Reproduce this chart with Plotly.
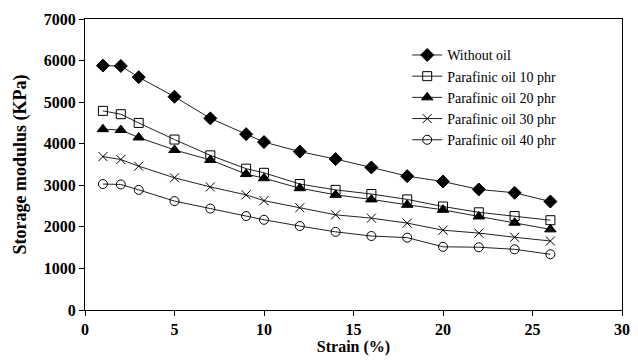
import plotly.graph_objects as go

strain = [1, 2, 3, 5, 7, 9, 10, 12, 14, 16, 18, 20, 22, 24, 26]
without_oil = [5880, 5870, 5600, 5130, 4610, 4230, 4040, 3810, 3630, 3430, 3220, 3090, 2900, 2820, 2610]
oil_10 = [4790, 4710, 4500, 4100, 3720, 3400, 3300, 3030, 2890, 2790, 2660, 2490, 2350, 2260, 2160]
oil_20 = [4350, 4330, 4150, 3850, 3610, 3270, 3170, 2930, 2770, 2660, 2530, 2410, 2250, 2100, 1940]
oil_30 = [3690, 3620, 3460, 3180, 2960, 2770, 2630, 2460, 2290, 2210, 2090, 1920, 1850, 1750, 1660]
oil_40 = [3030, 3020, 2890, 2620, 2440, 2260, 2170, 2020, 1880, 1780, 1740, 1520, 1510, 1460, 1340]

names = ["Without oil", "Parafinic oil 10 phr", "Parafinic oil 20 phr",
         "Parafinic oil 30 phr", "Parafinic oil 40 phr"]
series = [without_oil, oil_10, oil_20, oil_30, oil_40]
symbols = ["diamond", "square-open", "triangle-up", "x-thin-open", "circle-open"]
sizes = [10, 9, 10, 9, 9]

fig = go.Figure()
for name, vals, sym, sz in zip(names, series, symbols, sizes):
    fig.add_trace(go.Scatter(
        x=strain, y=vals, mode="lines+markers", name=name,
        line=dict(color="#222222", width=1),
        marker=dict(symbol=sym, size=sz, color="black",
                    line=dict(color="black", width=1)),
    ))

font_fam = "Liberation Serif"
fig.update_layout(
    width=638, height=362,
    margin=dict(l=85, r=8, t=19, b=52),
    paper_bgcolor="white", plot_bgcolor="white",
    font=dict(family=font_fam, color="black"),
    showlegend=True,
    legend=dict(x=0.6, y=0.93, xanchor="left", yanchor="top",
                bgcolor="rgba(0,0,0,0)", font=dict(size=14, family=font_fam),
                tracegroupgap=0, itemwidth=30),
    xaxis=dict(range=[0, 30], tickvals=[0, 5, 10, 15, 20, 25, 30],
               showgrid=False, zeroline=False, showline=True, linecolor="black",
               linewidth=1, mirror=True, ticks="outside", ticklen=5, tickcolor="black",
               tickfont=dict(size=16, family=font_fam, weight="bold"),
               title=dict(text="<b>Strain (%)</b>", font=dict(size=16, family=font_fam), standoff=2)),
    yaxis=dict(range=[0, 7000], tickvals=[0, 1000, 2000, 3000, 4000, 5000, 6000, 7000],
               showgrid=False, zeroline=False, showline=True, linecolor="black",
               linewidth=1, mirror=True, ticks="outside", ticklen=5, tickcolor="black",
               tickfont=dict(size=16, family=font_fam, weight="bold"),
               title=dict(text="<b>Storage modulus (KPa)</b>", font=dict(size=18, family=font_fam), standoff=12)),
)

fig.write_html("out.html")
